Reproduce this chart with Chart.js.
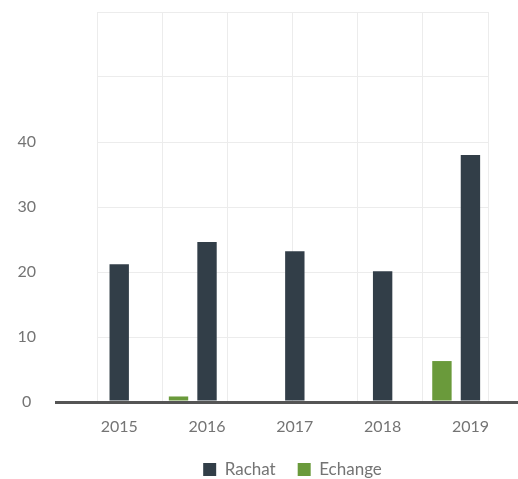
<!DOCTYPE html>
<html lang="fr">
<head>
<meta charset="UTF-8">
<title>Rachat / Echange</title>
<script src="https://cdn.jsdelivr.net/npm/chart.js@4.4.0/dist/chart.umd.min.js"></script>
<style>
  html, body { margin: 0; padding: 0; background: #fff; overflow: hidden; }
  .chart-box { position: relative; width: 518px; height: 488px; }
</style>
</head>
<body>
<div class="chart-box"><canvas id="rachatChart"></canvas></div>
<script>
  // données
  const annees = [2015, 2016, 2017, 2018, 2019];
  const rachat = [21.2, 24.6, 23.2, 20.1, 38];
  const echange = [0, 0.85, 0, 0, 6.3];
  const ticksY = [0, 10, 20, 30, 40, 50, 60];
  const ticksAffiches = [0, 10, 20, 30, 40];
  const colonnesGrille = [0, 1, 2, 3, 4, 5, 6];

  Chart.defaults.font.family = 'Lato, sans-serif';
  Chart.defaults.font.size = 16;
  Chart.defaults.color = '#747474';

  const ctx = document.getElementById('rachatChart').getContext('2d');
  new Chart(ctx, {
    type: 'bar',
    data: {
      labels: annees,
      datasets: [
        { label: 'Echange', data: echange, backgroundColor: '#6a9a3b' },
        { label: 'Rachat', data: rachat, backgroundColor: '#323e48' },
        // place vide a droite pour que Rachat reste centre sur l'annee
        { label: '', data: [] }
      ]
    },
    options: {
      responsive: true,
      maintainAspectRatio: false,
      animation: false,
      categoryPercentage: 0.974,
      barPercentage: 0.68,
      layout: { padding: { top: 12 } },
      plugins: {
        tooltip: { enabled: false },
        legend: {
          position: 'bottom',
          fullSize: false,
          labels: {
            boxWidth: 13,
            boxHeight: 13,
            padding: 22,
            font: { size: 17 },
            filter: item => item.text !== '',
            sort: (a, b) => b.datasetIndex - a.datasetIndex
          }
        }
      },
      scales: {
        x: {
          type: 'linear',
          position: 'bottom',
          offset: false,
          min: 2014.747,
          max: 2019.2,
          grid: { display: false, drawTicks: false, offset: false },
          border: { display: false },
          afterBuildTicks: s => { s.ticks = annees.map(v => ({ value: v })); },
          ticks: { padding: 15, callback: v => String(v) },
          afterFit: s => { s.height = 37; s.paddingLeft = 0; s.paddingRight = 0; }
        },
        colonnes: {
          type: 'linear',
          position: 'top',
          offset: false,
          min: 0,
          max: 6,
          afterBuildTicks: s => { s.ticks = colonnesGrille.map(v => ({ value: v })); },
          ticks: { display: false },
          grid: { color: '#ececec', drawTicks: false, offset: false },
          border: { display: false }
        },
        y: {
          min: 0,
          max: 60,
          afterBuildTicks: s => { s.ticks = ticksY.map(v => ({ value: v })); },
          ticks: {
            crossAlign: 'center',
            padding: 19,
            callback: v => ticksAffiches.includes(v) ? v : ''
          },
          grid: {
            color: c => c.tick.value === 0 ? '#555555' : '#ececec',
            lineWidth: c => c.tick.value === 0 ? 3 : 1,
            tickColor: c => c.tick.value === 0 ? '#555555' : 'transparent',
            tickLength: 42
          },
          border: { display: false },
          afterFit: s => { s.width = 97; s.paddingTop = 0; s.paddingBottom = 0; }
        },
        yDroite: {
          type: 'linear',
          position: 'right',
          min: 0,
          max: 60,
          afterBuildTicks: s => { s.ticks = [{ value: 0 }]; },
          ticks: { display: false },
          grid: { color: '#555555', lineWidth: 3, tickLength: 30 },
          border: { display: false }
        }
      }
    }
  });
</script>
</body>
</html>
